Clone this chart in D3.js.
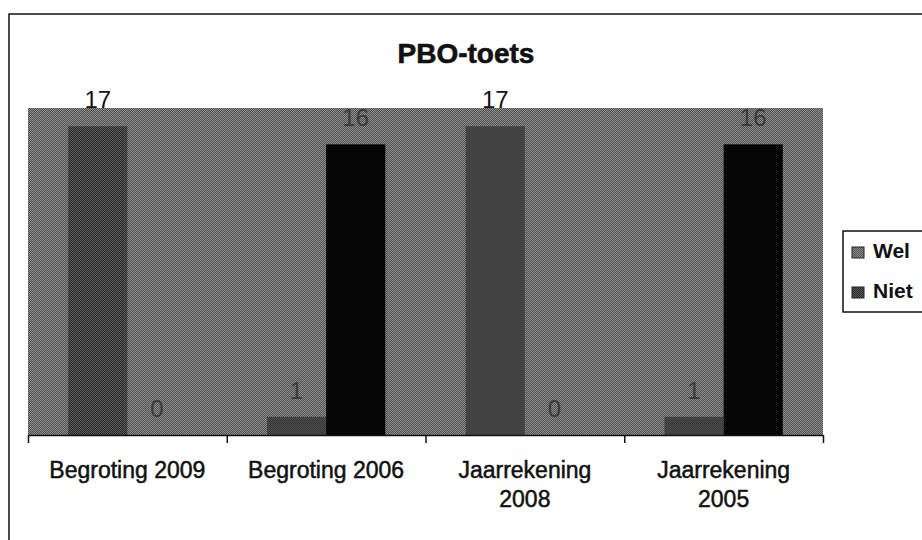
<!DOCTYPE html>
<html>
<head>
<meta charset="utf-8">
<script src="https://cdn.jsdelivr.net/npm/d3@7"></script>
<style>
  body { margin: 0; background: #fff; }
  svg { display: block; font-family: "Liberation Sans", Arial, sans-serif; }
</style>
</head>
<body>
<svg width="922" height="540"></svg>
<script>

// data
const titulo = "PBO-toets";
const categorias = ["Begroting 2009", "Begroting 2006", "Jaarrekening 2008", "Jaarrekening 2005"];
const rotulos_categorias = [["Begroting 2009"], ["Begroting 2006"], ["Jaarrekening", "2008"], ["Jaarrekening", "2005"]];
const series = ["Wel", "Niet"];
const valores_wel = [17, 1, 17, 1];
const valores_niet = [0, 16, 0, 16];
const y_max = 18;

const vis = {

    sels : {
        svg : null
    },

    dims : {
        plot : { left : 28, right : 823, top : 108, bottom : 435 }
    },

    scales : {
        x0 : null,
        x1 : null,
        y : null,
        ticks : null
    },

    render : {

        patterns : function() {

            const defs = vis.sels.svg.append("defs");

            // fundo pontilhado (scan)
            const pats = [
                { id : "pat-fundo", a : "#505050", b : "#8e8e8e" },
                { id : "pat-wel", a : "#2a2a2a", b : "#5a5a5a" },
                { id : "pat-niet", a : "#000", b : "#0c0c0c" }
            ];

            pats.forEach(p => {
                const pat = defs.append("pattern")
                  .attr("id", p.id)
                  .attr("width", 2)
                  .attr("height", 2)
                  .attr("patternUnits", "userSpaceOnUse");
                pat.append("rect").attr("width", 2).attr("height", 2).attr("fill", p.a);
                pat.append("rect").attr("width", 1).attr("height", 1).attr("fill", p.b);
                pat.append("rect").attr("x", 1).attr("y", 1).attr("width", 1).attr("height", 1).attr("fill", p.b);
            });

        },

        frame : function() {

            vis.sels.svg.append("path")
              .attr("d", "M9,540 L9,14 L922,14")
              .attr("fill", "none")
              .attr("stroke", "#111")
              .attr("stroke-width", 1.5);

            vis.sels.svg.append("text")
              .attr("x", 466)
              .attr("y", 63)
              .attr("text-anchor", "middle")
              .attr("font-size", 28)
              .attr("font-weight", "bold")
              .attr("fill", "#111")
              .attr("stroke", "#111")
              .attr("stroke-width", 0.6)
              .text(titulo);

        },

        bars : function() {

            const p = vis.dims.plot;

            vis.sels.svg.append("rect")
              .attr("x", p.left)
              .attr("y", p.top)
              .attr("width", p.right - p.left)
              .attr("height", p.bottom - p.top)
              .attr("fill", "url(#pat-fundo)");

            const dados = categorias.map((c, i) => ({
                cat : c,
                vals : [
                    { serie : "Wel", v : valores_wel[i] },
                    { serie : "Niet", v : valores_niet[i] }
                ]
            }));

            const grupos = vis.sels.svg.selectAll("g.grupo")
              .data(dados)
              .join("g")
              .classed("grupo", true)
              .attr("transform", d => `translate(${vis.scales.x0(d.cat)},0)`);

            grupos.selectAll("rect")
              .data(d => d.vals)
              .join("rect")
              .attr("x", d => vis.scales.x1(d.serie))
              .attr("y", d => vis.scales.y(d.v))
              .attr("width", vis.scales.x1.bandwidth())
              .attr("height", d => vis.scales.y(0) - vis.scales.y(d.v))
              .attr("fill", d => d.serie == "Wel" ? "url(#pat-wel)" : "url(#pat-niet)");

            // rotulos: dentro do fundo quase nao se veem
            grupos.selectAll("text")
              .data(d => d.vals)
              .join("text")
              .attr("x", d => vis.scales.x1(d.serie) + vis.scales.x1.bandwidth() / 2)
              .attr("y", d => vis.scales.y(d.v) - 18)
              .attr("text-anchor", "middle")
              .attr("font-size", 24)
              .attr("fill", d => d.v >= 17 ? "#111" : "#3a3a3a")
              .text(d => d.v);

        },

        axis : function() {

            const p = vis.dims.plot;

            const eixo = vis.sels.svg.append("g")
              .attr("transform", `translate(0,${p.bottom})`)
              .call(d3.axisBottom(vis.scales.ticks)
                .ticks(categorias.length)
                .tickFormat("")
                .tickSize(8)
                .tickSizeOuter(0));

            eixo.select(".domain").attr("stroke", "#111").attr("stroke-width", 1.5);
            eixo.selectAll(".tick line").attr("stroke", "#111").attr("stroke-width", 1.5);

            const rot = vis.sels.svg.selectAll("text.cat")
              .data(rotulos_categorias)
              .join("text")
              .classed("cat", true)
              .attr("x", (d, i) => vis.scales.x0(categorias[i]) + vis.scales.x0.bandwidth() / 2)
              .attr("y", 478)
              .attr("text-anchor", "middle")
              .attr("font-size", 23)
              .attr("fill", "#111")
              .attr("stroke", "#111")
              .attr("stroke-width", 0.5);

            rot.selectAll("tspan")
              .data(d => d)
              .join("tspan")
              .attr("x", function() { return d3.select(this.parentNode).attr("x"); })
              .attr("dy", (d, i) => i == 0 ? 0 : 29)
              .text(d => d);

        },

        legend : function() {

            const leg = vis.sels.svg.append("g");

            leg.append("rect")
              .attr("x", 843)
              .attr("y", 231)
              .attr("width", 100)
              .attr("height", 81)
              .attr("fill", "#fff")
              .attr("stroke", "#111")
              .attr("stroke-width", 1.5);

            const itens = leg.selectAll("g.item")
              .data(series)
              .join("g")
              .classed("item", true)
              .attr("transform", (d, i) => `translate(852,${247 + i * 40})`);

            itens.append("rect")
              .attr("width", 12)
              .attr("height", 11)
              .attr("fill", d => d == "Wel" ? "url(#pat-fundo)" : "url(#pat-wel)")
              .attr("stroke", "#222")
              .attr("stroke-width", 1);

            itens.append("text")
              .attr("x", 21)
              .attr("y", 11)
              .attr("font-size", 21)
              .attr("font-weight", "bold")
              .attr("fill", "#111")
              .text(d => d);

        }

    },

    control : {

        init_scales : function() {

            const p = vis.dims.plot;

            vis.scales.x0 = d3.scaleBand()
              .domain(categorias)
              .range([p.left, p.right])
              .padding(0);

            vis.scales.x1 = d3.scaleBand()
              .domain(series)
              .range([0, vis.scales.x0.bandwidth()])
              .paddingInner(0)
              .paddingOuter(0.68);

            vis.scales.y = d3.scaleLinear()
              .domain([0, y_max])
              .range([p.bottom, p.top]);

            vis.scales.ticks = d3.scaleLinear()
              .domain([0, categorias.length])
              .range([p.left, p.right]);

        },

        init : function() {

            vis.sels.svg = d3.select("svg");
            vis.control.init_scales();
            vis.render.patterns();
            vis.render.frame();
            vis.render.bars();
            vis.render.axis();
            vis.render.legend();

        }

    }

}

vis.control.init();
</script>
</body>
</html>
